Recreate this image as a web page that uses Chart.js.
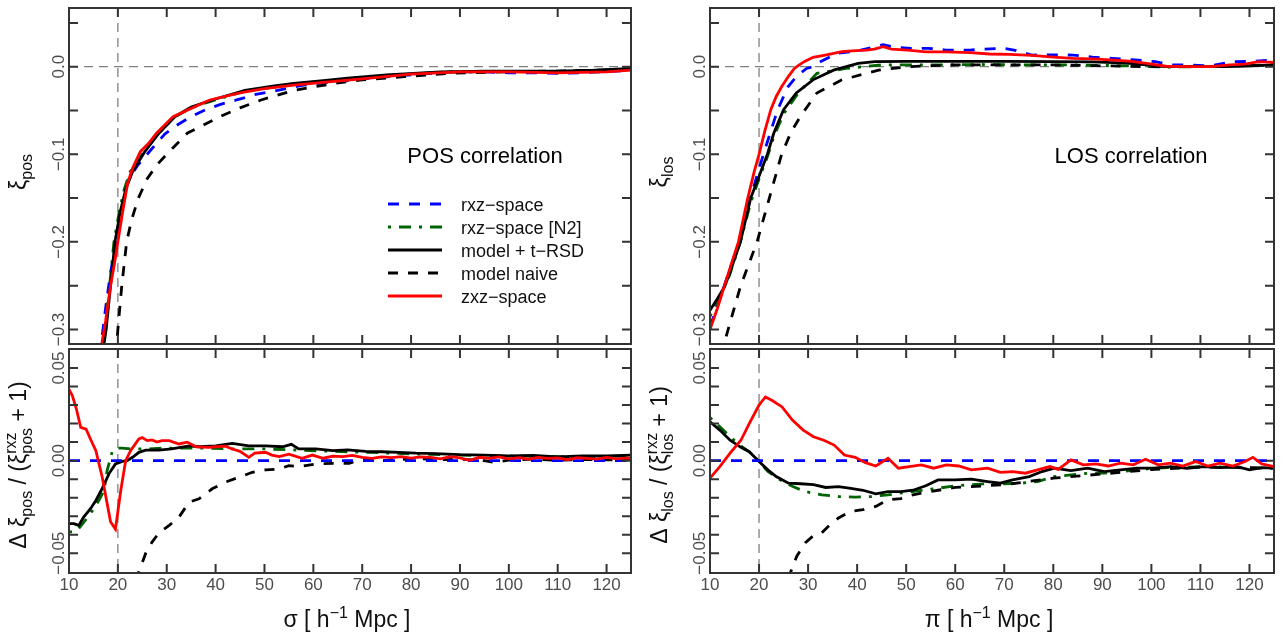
<!DOCTYPE html>
<html><head><meta charset="utf-8">
<script src="https://cdn.jsdelivr.net/npm/chart.js@4.4.1/dist/chart.umd.min.js"></script>
<style>
body{margin:0;background:#fff;width:1287px;height:633px;overflow:hidden;}
canvas{position:absolute;left:0;top:0;}
</style>
</head><body>
<canvas id="cTL" width="1287" height="633"></canvas>
<canvas id="cBL" width="1287" height="633"></canvas>
<canvas id="cTR" width="1287" height="633"></canvas>
<canvas id="cBR" width="1287" height="633"></canvas>
<script>
// ---------------- tick values / labels ----------------
const xTicks = [10,20,30,40,50,60,70,80,90,100,110,120];
const xTickLabels = ['10','20','30','40','50','60','70','80','90','100','110','120'];
const topYTicks = [0.05,0,-0.05,-0.1,-0.15,-0.2,-0.25,-0.3];
const topYLabelVals = [0,-0.1,-0.2,-0.3];
const topYLabels = ['0.0','\u22120.1','\u22120.2','\u22120.3'];
const botYTicks = [0.05,0.04,0.03,0.02,0.01,0,-0.01,-0.02,-0.03,-0.04,-0.05];
const botYLabelVals = [0.05,0,-0.05];
const botYLabels = ['0.05','0.00','\u22120.05'];
const legendLabels = ['rxz\u2212space','rxz\u2212space [N2]','model + t\u2212RSD','model naive','zxz\u2212space'];

// ---------------- POS correlation (top left) ----------------
const posX_rxz = [16.3,16.6,17.5,18.5,19.6,20.8,22,24,26.3,28,29.6,32,35,38,41,44.3,48,52.7,58,63,68.6,74,79.5,88,95,100,105,110,115,120,125];
const posY_rxz = [-0.33,-0.316,-0.275,-0.235,-0.20,-0.165,-0.13,-0.113,-0.098,-0.087,-0.077,-0.067,-0.057,-0.049,-0.043,-0.038,-0.032,-0.027,-0.021,-0.018,-0.015,-0.012,-0.0095,-0.006,-0.006,-0.007,-0.007,-0.0075,-0.007,-0.0055,-0.004];
const posX_n2 = [16.5,17.3,18.3,19.2,20.3,21.3,22.5,25,28,31.5,35,39.3,46,56,67,75,86,100,110,125];
const posY_n2 = [-0.33,-0.30,-0.25,-0.20,-0.165,-0.14,-0.12,-0.10,-0.078,-0.058,-0.047,-0.039,-0.028,-0.020,-0.014,-0.010,-0.0065,-0.0055,-0.0055,-0.0025];
const posX_model = [16.8,17.6,18.5,19.4,20.5,21.6,23,25.4,28.4,31.7,35,39.3,46,52,56,62,67,75,86,95,100,110,118,125];
const posY_model = [-0.33,-0.30,-0.25,-0.20,-0.165,-0.14,-0.12,-0.098,-0.076,-0.057,-0.046,-0.038,-0.027,-0.022,-0.019,-0.016,-0.013,-0.0095,-0.006,-0.005,-0.005,-0.005,-0.004,-0.002];
const posX_naive = [19.6,20,20.8,21.8,22.8,24.2,26,28,30,34.2,40.9,45,49.3,56,64.4,70,78.6,88,100,110,125];
const posY_naive = [-0.33,-0.30,-0.25,-0.20,-0.175,-0.15,-0.128,-0.112,-0.10,-0.076,-0.057,-0.047,-0.038,-0.027,-0.019,-0.015,-0.0114,-0.0076,-0.0057,-0.005,-0.003];
const posX_zxz = [16.3,17.5,18.5,19.3,20,21,22,23,24.6,26.3,27.9,31.3,35,38.8,45,50,56,62,70,80,90,100,110,120,125];
const posY_zxz = [-0.33,-0.29,-0.25,-0.225,-0.20,-0.165,-0.133,-0.116,-0.097,-0.0875,-0.076,-0.057,-0.0476,-0.038,-0.030,-0.025,-0.021,-0.018,-0.014,-0.0085,-0.006,-0.006,-0.007,-0.006,-0.004];

// ---------------- LOS correlation (top right) ----------------
const losX_rxz = [10,12,14,16,18.2,20.9,23.8,25.9,27.8,29.7,31,32.6,36,40,43.6,45.3,48,51,54.5,58,63,66,69.7,72,75.6,80,84,88,92,96,100.8,104,108,112,116.8,120,125];
const losY_rxz = [-0.297,-0.265,-0.232,-0.20,-0.15,-0.10,-0.049,-0.023,-0.010,-0.002,0.0,0.006,0.0152,0.018,0.0228,0.025,0.022,0.021,0.021,0.019,0.019,0.020,0.021,0.019,0.0133,0.0135,0.0133,0.011,0.0095,0.008,0.0057,0.002,0.002,0.001,0.0057,0.006,0.0076];
const losX_n2 = [10,12,14,16.2,18.3,20,21.7,23,25,28,31.8,37.7,45,55,65,75,85,95,103,110,120,125];
const losY_n2 = [-0.285,-0.262,-0.238,-0.20,-0.155,-0.128,-0.103,-0.08,-0.054,-0.030,-0.0076,-0.002,0.002,0.002,0.0025,0.002,0.002,0.001,-0.0005,0.0,0.001,0.002];
const losX_model = [10,11.5,13,14.5,16.2,18.3,20,21.7,23,25,27.6,31,35.2,40.2,43.6,50,60,70,80,88,95,103,110,115,120,125];
const losY_model = [-0.278,-0.265,-0.251,-0.228,-0.20,-0.15,-0.125,-0.10,-0.076,-0.049,-0.030,-0.015,-0.004,0.0038,0.0057,0.006,0.006,0.006,0.0057,0.0055,0.004,0.0,0.0,0.0,0.001,0.002];
const losX_naive = [12.2,13.7,16.2,19.6,22.1,24.6,26.5,28.4,31.8,36.9,44.4,50.3,60,80,100,110,125];
const losY_naive = [-0.33,-0.30,-0.251,-0.20,-0.15,-0.10,-0.075,-0.057,-0.030,-0.015,-0.004,0.0,0.002,0.002,0.0,0.0,0.002];
const losX_zxz = [10,11.5,12.9,14.3,15.8,17.7,19,20,21.2,22.4,23.5,24.6,26,27.2,28.2,29.3,31,33.5,36.9,39,41.9,43.5,45.3,47,50.3,54,58,63,67,71,75.6,80,84,88,92.4,96,99,103,108,112,116,119,121.9,125];
const losY_zxz = [-0.300,-0.276,-0.251,-0.226,-0.20,-0.15,-0.12,-0.100,-0.073,-0.049,-0.034,-0.023,-0.011,-0.002,0.002,0.006,0.0107,0.0133,0.0171,0.018,0.019,0.020,0.0228,0.020,0.019,0.017,0.017,0.016,0.0145,0.014,0.013,0.011,0.0095,0.009,0.0076,0.006,0.0038,0.0005,0.0,0.0,0.002,0.003,0.0057,0.005];

// ---------------- POS ratio (bottom left) ----------------
const posRX_rxz = [10,125];
const posRY_rxz = [0,0];
const posRX_n2 = [10,11,12,13.4,14.8,16.1,17.2,17.8,18.9,19.9,20.9,23,25.7,29.8,33.9,38,43.4,50.2,57,64,70.7,81,90,100,110,120,125];
const posRY_n2 = [-0.0385,-0.0385,-0.0367,-0.032,-0.027,-0.0215,-0.016,-0.0054,0.0054,0.0068,0.0068,0.0063,0.0063,0.0068,0.0068,0.0068,0.0063,0.0063,0.0057,0.005,0.0045,0.0036,0.003,0.0025,0.0022,0.0022,0.0025];
const posRX_model = [10,11,12,13,14.4,15.5,16.8,18.2,19.5,20.9,21.9,23,24.3,25.7,28.4,31,34.6,36.6,40,43.4,46.8,50.2,53.7,55.5,57,60.5,64,67,70.7,74,77.5,81,85,90,95,100,105,110,115,120,125];
const posRY_model = [-0.034,-0.034,-0.035,-0.0305,-0.026,-0.0215,-0.015,-0.007,-0.0018,-0.0004,0.0,0.0018,0.0045,0.0057,0.0057,0.0063,0.008,0.0075,0.008,0.0093,0.008,0.008,0.0075,0.0088,0.0063,0.0063,0.0054,0.0058,0.005,0.0048,0.0045,0.004,0.0038,0.0032,0.003,0.0025,0.0028,0.002,0.0025,0.0025,0.003];
const posRX_naive = [23.8,24.3,25.7,27,28.4,30.5,32.5,34.6,36.6,39.3,42,44.8,47.5,50.2,53,55,57,60.5,64,67.3,69.3,74,77.5,81,85,90,95,97,100,105,110,115,120,125];
const posRY_naive = [-0.065,-0.060,-0.050,-0.044,-0.039,-0.035,-0.0305,-0.0224,-0.0206,-0.0152,-0.0116,-0.009,-0.0063,-0.005,-0.0045,-0.0027,-0.0032,-0.0018,-0.0015,-0.0015,0.0004,0.0,0.0005,0.0013,0.0005,0.0008,0.0,-0.001,0.0003,0.0008,0.0002,0.0006,0.0004,0.0006];
const posRX_zxz = [10,10.7,11.5,12.4,13.5,14.5,15.5,16.8,18.5,19.5,20.6,21.6,22.6,24.3,25,26,27,28,29,30.5,32.5,34.2,36,38.6,40,42,43.4,45,46.8,48,50.2,51.5,53,55,57.7,59.8,62,64,66,68,70,72,74,76,78,80,82,84,86,88,90,92,94,96,98,100,102,104,106,108,110,112,114,116,118,120,122,124,125];
const posRY_zxz = [0.0385,0.035,0.028,0.018,0.017,0.011,0.0054,-0.009,-0.033,-0.037,-0.016,0.0,0.0054,0.0117,0.0125,0.0108,0.0112,0.0100,0.0108,0.0108,0.009,0.010,0.0075,0.0072,0.0075,0.0078,0.0063,0.0050,0.0018,0.0040,0.0045,0.0030,0.0022,0.0035,0.0013,0.0030,0.0013,0.0024,0.0022,0.0028,0.0018,0.0012,0.0020,0.0016,0.0022,0.0014,0.0020,0.0018,0.0010,0.0022,0.0015,0.0002,0.0018,0.0012,0.0020,0.0010,0.0016,0.0008,0.0018,0.0012,0.0015,0.0005,0.0016,0.0012,0.0008,0.0018,0.0010,0.0014,0.0012];

// ---------------- LOS ratio (bottom right) ----------------
const losRX_rxz = [10,125];
const losRY_rxz = [0,0];
const losRX_n2 = [10,12,14.1,16.3,18,20,21.8,24.3,26.9,29.4,32.8,36.2,39.6,42.9,46.3,49.7,53.1,56.5,59.9,63.3,66.6,70,73.4,76.8,80.2,83.6,87,90.4,93.7,97.1,100.5,105.6,110.7,115.8,120.9,125];
const losRY_n2 = [0.0233,0.0183,0.0129,0.0079,0.0048,-0.0005,-0.0059,-0.0104,-0.014,-0.0167,-0.0185,-0.0194,-0.0197,-0.0194,-0.0185,-0.0172,-0.0161,-0.0149,-0.0136,-0.013,-0.0125,-0.0125,-0.0122,-0.0113,-0.0086,-0.0077,-0.0068,-0.0068,-0.0059,-0.005,-0.0041,-0.0036,-0.0032,-0.0036,-0.0041,-0.0041];
const losRX_model = [10,12,14.1,16.3,18,20,21.8,23.5,26,28.5,31.1,33.6,36.2,38.7,41.2,43.8,46.3,48.9,51.4,54,56.5,59.9,63.3,66.6,69.2,71.7,75.1,77.7,80.2,83.6,87,90.4,93.7,97.1,100.5,103.9,107.3,110.7,114,117.5,120,122.5,125];
const losRY_model = [0.021,0.0165,0.011,0.0072,0.0048,-0.0005,-0.005,-0.0086,-0.0122,-0.0125,-0.013,-0.0145,-0.014,-0.015,-0.016,-0.0179,-0.0167,-0.0167,-0.016,-0.0136,-0.0104,-0.0104,-0.01,-0.0113,-0.0122,-0.0104,-0.0086,-0.0059,-0.0041,-0.0054,-0.0041,-0.0059,-0.005,-0.0041,-0.0041,-0.0032,-0.0041,-0.0032,-0.0038,-0.0032,-0.005,-0.0038,-0.0041];
const losRX_naive = [26,26.4,27.7,29.4,31.1,32.8,34.5,36.2,38.7,41.2,43.8,46.3,48.9,50.6,53.1,56.5,60,70,80,90,100,110,120,125];
const losRY_naive = [-0.064,-0.0605,-0.0516,-0.0444,-0.0405,-0.039,-0.0346,-0.031,-0.0274,-0.0265,-0.0247,-0.0211,-0.0205,-0.0190,-0.0175,-0.0160,-0.0145,-0.0130,-0.0095,-0.0072,-0.0048,-0.0035,-0.0038,-0.0040];
const losRX_zxz = [10,12,14.1,16.3,18,19.2,20,21.3,22.6,24.7,26.8,29,31.1,33.2,35.3,37.4,39.6,41.7,43.8,46.3,48.4,50.6,53.1,55.6,58.2,60.7,63.3,66.6,69.2,71.7,74.3,76.8,79.3,81,83.6,86.1,88.7,91.2,93.7,96.3,98.8,101.4,103.9,106.4,109,111.5,114,116.6,119.1,120.7,122.5,125];
const losRY_zxz = [-0.0095,-0.0032,0.004,0.011,0.020,0.026,0.030,0.0344,0.0326,0.029,0.0219,0.0165,0.0129,0.011,0.0084,0.003,0.0018,-0.0011,-0.0029,0.0013,-0.0041,-0.0032,-0.0023,-0.0041,-0.0023,-0.0029,-0.005,-0.0041,-0.0063,-0.0059,-0.0068,-0.005,-0.0032,-0.0047,0.0004,-0.0023,-0.0018,-0.0029,-0.0014,-0.0023,0.0007,-0.0023,-0.0014,-0.0029,-0.0005,-0.0029,-0.0014,-0.0029,-0.0005,0.0018,-0.0018,-0.0032];

// ---------------- helpers ----------------
const FONT = "'Liberation Sans', Arial, Helvetica, sans-serif";
const F = s => s + 'px ' + FONT;
const pts = (xs, ys) => xs.map((x, i) => ({x: x, y: ys[i]}));
const STY = {
  rxz:   {borderColor:'#0000ff', borderDash:[11,10], borderWidth:2.8},
  n2:    {borderColor:'#006400', borderDash:[3,8,12,8], borderWidth:2.8},
  model: {borderColor:'#000000', borderDash:[], borderWidth:2.8},
  naive: {borderColor:'#000000', borderDash:[10,10], borderWidth:2.8},
  zxz:   {borderColor:'#ff0000', borderDash:[], borderWidth:2.8}
};
const KEYS = ['rxz','n2','model','naive','zxz'];

function ds(key, xs, ys) {
  return Object.assign({label:key, data:pts(xs, ys), pointRadius:0, tension:0, fill:false, clip:1}, STY[key]);
}

function drawRich(ctx, segs, x0, y0, rotate, color) {
  const widths = segs.map(s => {
    ctx.font = F(s.size);
    if (s.sub !== undefined) return Math.max(ctx.measureText(s.sub).width, ctx.measureText(s.sup).width);
    return ctx.measureText(s.t).width;
  });
  const total = widths.reduce((a, b) => a + b, 0);
  ctx.save();
  ctx.translate(x0, y0);
  if (rotate) ctx.rotate(-Math.PI / 2);
  ctx.fillStyle = color; ctx.textAlign = 'left'; ctx.textBaseline = 'alphabetic';
  let cx = -total / 2;
  segs.forEach((s, i) => {
    ctx.font = F(s.size);
    if (s.sub !== undefined) { ctx.fillText(s.sub, cx, s.subDy); ctx.fillText(s.sup, cx, s.supDy); }
    else ctx.fillText(s.t, cx, s.dy || 0);
    cx += widths[i];
  });
  ctx.restore();
}

const panelPlugin = {
  id: 'panel',
  beforeDatasetsDraw(chart, args, o) {
    const {ctx, chartArea: a, scales: {x, y}} = chart;
    ctx.save();
    ctx.beginPath(); ctx.rect(a.left, a.top, a.width, a.height); ctx.clip();
    ctx.strokeStyle = '#808080'; ctx.lineWidth = 1.3; ctx.setLineDash([9, 6]);
    ctx.beginPath();
    o.vLines.forEach(v => { const px = x.getPixelForValue(v); ctx.moveTo(px, a.top); ctx.lineTo(px, a.bottom); });
    o.hLines.forEach(v => { const py = y.getPixelForValue(v); ctx.moveTo(a.left, py); ctx.lineTo(a.right, py); });
    ctx.stroke();
    ctx.restore();
  },
  afterDraw(chart, args, o) {
    const {ctx, chartArea: a, scales: {x, y}} = chart;
    const TL = 9;
    ctx.save();
    ctx.setLineDash([]);
    ctx.strokeStyle = '#333'; ctx.lineWidth = 2;
    ctx.beginPath();
    xTicks.forEach(v => {
      const px = x.getPixelForValue(v);
      if (px < a.left + 2 || px > a.right - 2) return;
      ctx.moveTo(px, a.top); ctx.lineTo(px, a.top + TL);
      ctx.moveTo(px, a.bottom); ctx.lineTo(px, a.bottom - TL);
    });
    o.yTicks.forEach(v => {
      const py = y.getPixelForValue(v);
      if (py < a.top + 2 || py > a.bottom - 2) return;
      ctx.moveTo(a.left, py); ctx.lineTo(a.left + TL, py);
      ctx.moveTo(a.right, py); ctx.lineTo(a.right - TL, py);
    });
    ctx.stroke();
    ctx.strokeRect(a.left, a.top, a.width, a.height);

    // y tick labels (rotated, like R)
    ctx.fillStyle = '#4d4d4d';
    ctx.font = F(17);
    o.yLabelVals.forEach((v, i) => {
      const py = y.getPixelForValue(v);
      ctx.save();
      ctx.translate(a.left - 5, py);
      ctx.rotate(-Math.PI / 2);
      ctx.textAlign = 'center'; ctx.textBaseline = 'alphabetic';
      ctx.fillText(o.yLabels[i], 0, 0);
      ctx.restore();
    });
    // x tick labels + title
    if (o.xLabels) {
      ctx.textAlign = 'center'; ctx.textBaseline = 'alphabetic';
      xTicks.forEach((v, i) => ctx.fillText(xTickLabels[i], x.getPixelForValue(v), a.bottom + 17));
      drawRich(ctx, o.xTitle, (a.left + a.right) / 2 - 3, 627, false, '#111');
    }
    // y title
    drawRich(ctx, o.yTitle, a.left - 43, o.yTitleY, true, '#111');
    // panel annotation
    if (o.note) {
      ctx.fillStyle = '#000'; ctx.font = F(22); ctx.textAlign = 'center'; ctx.textBaseline = 'alphabetic';
      ctx.fillText(o.note, o.noteX, 163);
    }
    // legend
    if (o.legend) {
      const byKey = {};
      chart.data.datasets.forEach(d => byKey[d.label] = d);
      KEYS.forEach((k, i) => {
        const d = byKey[k];
        const ly = 204 + i * 23;
        ctx.strokeStyle = d.borderColor; ctx.lineWidth = d.borderWidth; ctx.setLineDash(d.borderDash);
        ctx.beginPath(); ctx.moveTo(388, ly); ctx.lineTo(442, ly); ctx.stroke();
        ctx.fillStyle = '#111'; ctx.font = F(18); ctx.textAlign = 'left';
        ctx.fillText(legendLabels[i], 461, ly + 6.5);
      });
      ctx.setLineDash([]);
    }
    ctx.restore();
  }
};

function makeChart(id, datasets, area, yMin, yMax, popts) {
  return new Chart(document.getElementById(id), {
    type: 'line',
    data: {datasets: datasets},
    options: {
      responsive: false, animation: false, devicePixelRatio: 1, events: [],
      layout: {padding: {left: area[0], top: area[1], right: 1287 - area[2], bottom: 633 - area[3]}},
      scales: {
        x: {type: 'linear', min: 10, max: 125, display: false},
        y: {type: 'linear', min: yMin, max: yMax, display: false}
      },
      plugins: {legend: {display: false}, tooltip: {enabled: false}, panel: popts}
    },
    plugins: [panelPlugin]
  });
}

const TOP_MIN = -0.3166, TOP_MAX = 0.067, BOT_MIN = -0.0607, BOT_MAX = 0.0603;
const titleTop = sub => [{t:'\u03be', size:23}, {t:sub, size:16, dy:6}];
const titleBot = sub => [{t:'\u0394 \u03be', size:23}, {t:sub, size:16, dy:6}, {t:' / (', size:23}, {t:'\u03be', size:23},
  {sub:sub, sup:'rxz', size:16, subDy:6, supDy:-10}, {t:' + 1)', size:23}];
const xTitle = g => [{t:g + ' [ h', size:23}, {t:'\u22121', size:16, dy:-9}, {t:' Mpc ]', size:23}];

makeChart('cTL', [ds('zxz',posX_zxz,posY_zxz), ds('naive',posX_naive,posY_naive), ds('model',posX_model,posY_model), ds('n2',posX_n2,posY_n2), ds('rxz',posX_rxz,posY_rxz)],
  [69, 8, 631, 344], TOP_MIN, TOP_MAX,
  {vLines:[20], hLines:[0], yTicks:topYTicks, yLabelVals:topYLabelVals, yLabels:topYLabels, xLabels:false,
   yTitle:titleTop('pos'), yTitleY:172, note:'POS correlation', noteX:485, legend:true});
makeChart('cBL', [ds('zxz',posRX_zxz,posRY_zxz), ds('rxz',posRX_rxz,posRY_rxz), ds('naive',posRX_naive,posRY_naive), ds('model',posRX_model,posRY_model), ds('n2',posRX_n2,posRY_n2)],
  [69, 349, 631, 573], BOT_MIN, BOT_MAX,
  {vLines:[20], hLines:[], yTicks:botYTicks, yLabelVals:botYLabelVals, yLabels:botYLabels, xLabels:true, xTitle:xTitle('\u03c3'),
   yTitle:titleBot('pos'), yTitleY:465});
makeChart('cTR', [ds('zxz',losX_zxz,losY_zxz), ds('naive',losX_naive,losY_naive), ds('model',losX_model,losY_model), ds('n2',losX_n2,losY_n2), ds('rxz',losX_rxz,losY_rxz)],
  [710, 8, 1274, 344], TOP_MIN, TOP_MAX,
  {vLines:[20], hLines:[0], yTicks:topYTicks, yLabelVals:topYLabelVals, yLabels:topYLabels, xLabels:false,
   yTitle:titleTop('los'), yTitleY:172, note:'LOS correlation', noteX:1131});
makeChart('cBR', [ds('zxz',losRX_zxz,losRY_zxz), ds('rxz',losRX_rxz,losRY_rxz), ds('naive',losRX_naive,losRY_naive), ds('model',losRX_model,losRY_model), ds('n2',losRX_n2,losRY_n2)],
  [710, 349, 1274, 573], BOT_MIN, BOT_MAX,
  {vLines:[20], hLines:[], yTicks:botYTicks, yLabelVals:botYLabelVals, yLabels:botYLabels, xLabels:true, xTitle:xTitle('\u03c0'),
   yTitle:titleBot('los'), yTitleY:465});
</script>
</body></html>
